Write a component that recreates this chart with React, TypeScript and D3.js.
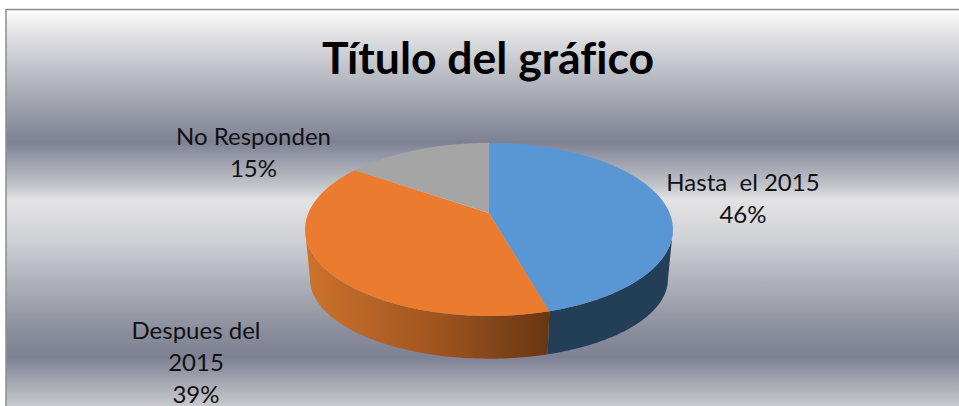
import React from "react";
import * as d3 from "d3";

const categories = ["Hasta  el 2015", "Despues del 2015", "No Responden"];
const shares = [45.6, 39.0, 15.4];
const percentLabels = ["46%", "39%", "15%"];
const labelLines = [["Hasta  el 2015"], ["Despues del", "2015"], ["No Responden"]];
const sliceColors = ["#5997d4", "#ea7b2f", "#a5a5a5"];
const title = "Título del gráfico";
const W = 959, H = 406;

const labelAnchors = [
  { x: 743, y: 190.5 },
  { x: 196, y: 338.5 },
  { x: 253.5, y: 145 },
];
const lineStep = 32.4;

// perspective projection of the pie disc
const persp = 0.19;
const topFace = { cx: 489, cy: 213, dx: 180.6, ky: 83.4 };
const baseFace = { cx: 489, cy: 264, dx: 175.7, ky: 76.7 };
type Face = typeof topFace;
const project = (f: Face, a: number): [number, number] => {
  const u = Math.sin(a), v = Math.cos(a);
  const w = 1 + persp * v;
  return [f.cx + (f.dx * u) / w, f.cy - (f.ky * v) / w];
};
const sample = (a0: number, a1: number, n = 80) =>
  d3.range(n + 1).map((i) => a0 + ((a1 - a0) * i) / n);
const line = d3.line();

const pie = d3.pie<number>().sort(null)(shares);
const sideStart = Math.acos(-persp);
const sideEnd = 2 * Math.PI - sideStart;

const topPath = (s: d3.PieArcDatum<number>) =>
  line([[topFace.cx, topFace.cy], ...sample(s.startAngle, s.endAngle).map((a) => project(topFace, a))])! + "Z";

const sidePath = (a0: number, a1: number) => {
  const angles = sample(a0, a1);
  return (
    line([
      ...angles.map((a) => project(topFace, a)),
      ...angles.slice().reverse().map((a) => project(baseFace, a)),
    ])! + "Z"
  );
};

const bgStops: [number, string][] = [
  [9, "#ffffff"],
  [30, "#e6e6e8"],
  [70, "#bfc1c8"],
  [110, "#9b9eaa"],
  [142, "#7d8193"],
  [165, "#a2a5b1"],
  [186, "#c4c5cb"],
  [200, "#e3e3e4"],
  [240, "#d0d1d5"],
  [290, "#a9abb5"],
  [330, "#8b8e9c"],
  [357, "#7d8193"],
  [385, "#a9abb5"],
  [406, "#c9cacd"],
];

export default function App() {
  const split = pie[0].endAngle;
  return (
    <svg width={W} height={H} style={{ position: "absolute", left: 0, top: 0 }} fontFamily="Lato, sans-serif">
      <defs>
        <linearGradient id="bg" gradientUnits="userSpaceOnUse" x1={0} x2={0} y1={9} y2={406}>
          {bgStops.map(([y, c], i) => (
            <stop key={i} offset={(y - 9) / 397} stopColor={c} />
          ))}
        </linearGradient>
        <linearGradient id="orangeSide" gradientUnits="userSpaceOnUse" x1={308} x2={548} y1={0} y2={0}>
          <stop offset={0} stopColor="#cb722d" />
          <stop offset={0.5} stopColor="#a35720" />
          <stop offset={1} stopColor="#693713" />
        </linearGradient>
      </defs>
      <rect width={W} height={H} fill="#fff" />
      <rect x={6} y={9.5} width={W} height={H} fill="url(#bg)" stroke="#8c8c8c" strokeWidth={1.5} />
      <text x={488} y={74} textAnchor="middle" fontSize={44.5} fontWeight={700} fill="#000" style={{ fontVariantLigatures: "none" }}>{title}</text>
      <path d={sidePath(sideStart, split)} fill="#233f57" />
      <path d={sidePath(split, sideEnd)} fill="url(#orangeSide)" />
      {pie.map((s, i) => (
        <path key={categories[i]} d={topPath(s)} fill={sliceColors[i]} />
      ))}
      {labelLines.map((lines, i) => (
        <text key={i} textAnchor="middle" fontSize={24} fill="#111">
          {[...lines, percentLabels[i]].map((t, j) => (
            <tspan key={j} x={labelAnchors[i].x} y={labelAnchors[i].y + j * lineStep} style={{ whiteSpace: "pre" }}>{t}</tspan>
          ))}
        </text>
      ))}
    </svg>
  );
}
